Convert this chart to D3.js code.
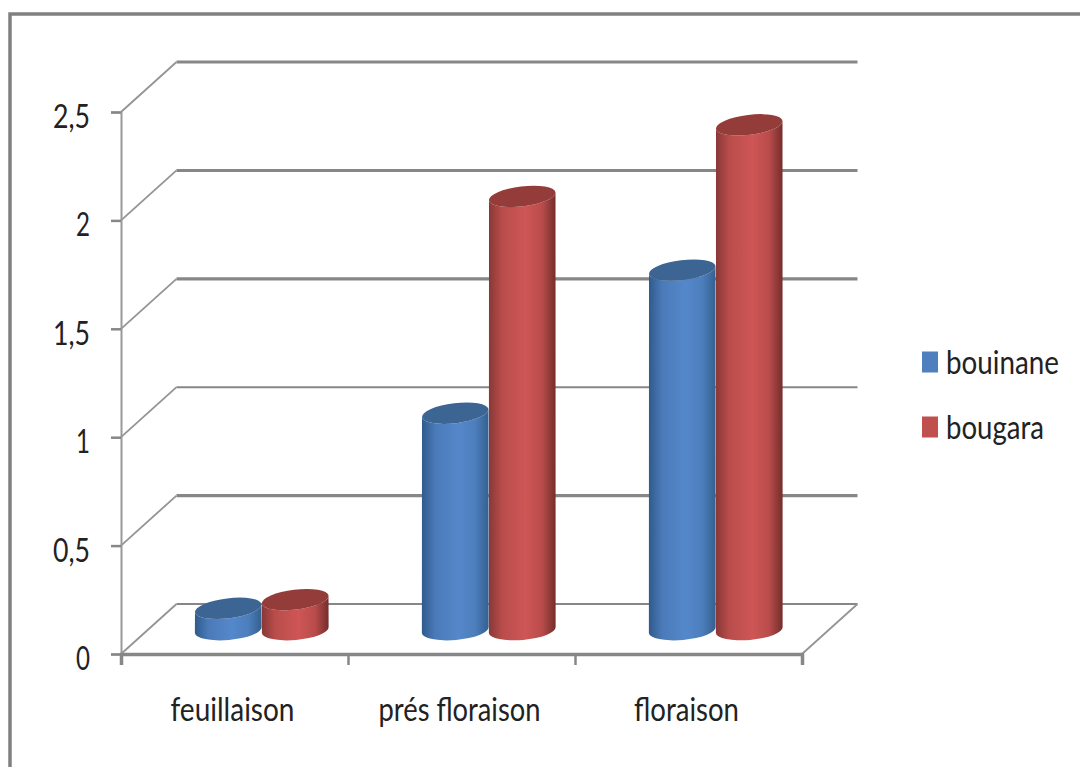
<!DOCTYPE html>
<html>
<head>
<meta charset="utf-8">
<script src="https://cdn.jsdelivr.net/npm/d3@7"></script>
<style>
  html, body { margin: 0; padding: 0; background: #fff; }
  svg { display: block; }
  text { font-family: Lato, "Open Sans", sans-serif; font-weight: 400; fill: #222; }
</style>
</head>
<body>
<svg id="chart" width="1080" height="767"></svg>
<script>
// Chart content
const categories = ["feuillaison", "prés floraison", "floraison"];
const seriesNames = ["bouinane", "bougara"];
const bouinane = [0.1, 1, 1.66];
const bougara = [0.14, 2, 2.33];
const valueTicks = [0, 0.5, 1, 1.5, 2, 2.5];
const valueTickLabels = ["0", "0,5", "1", "1,5", "2", "2,5"];

// Fixed box and pseudo-3D depth of the plot
const plotLeft = 121, plotRight = 802, plotBottom = 654, plotTop = 112;
const depthX = 55.5, depthY = -50;
const gridColor = "#878787";
const fontSize = 32;
const svg = d3.select("#chart");

const y = d3.scaleLinear().domain([0, 2.5]).range([plotBottom, plotTop]);
const xBand = d3.scaleBand().domain(categories).range([plotLeft, plotRight]);
const xEdge = d3.scaleLinear().domain([0, categories.length]).range([plotLeft, plotRight]);

// Frame, open on the right and at the bottom
svg.append("path")
  .attr("d", "M1080,14H10V767")
  .attr("fill", "none").attr("stroke", "#808080").attr("stroke-width", 3.5);

// Back-wall gridlines, heavier on some levels
const wall = d3.line();
const gridWeights = [2, 3.2, 2, 3.2, 3, 3];
svg.append("g").selectAll("path").data(valueTicks).join("path")
  .attr("d", v => wall([
    [plotLeft + depthX, y(v) + depthY],
    [plotRight + depthX, y(v) + depthY]
  ]))
  .attr("fill", "none")
  .attr("stroke", gridColor)
  .attr("stroke-width", (v, i) => gridWeights[i]);

// Slanted returns from the back wall to the value axis
svg.append("g").selectAll("path").data(valueTicks).join("path")
  .attr("d", v => wall([[plotLeft, y(v)], [plotLeft + depthX, y(v) + depthY]]))
  .attr("fill", "none")
  .attr("stroke", "#949494")
  .attr("stroke-width", 1.8);

// Right edge of the floor
svg.append("path")
  .attr("d", wall([[plotRight, y(0)], [plotRight + depthX, y(0) + depthY]]))
  .attr("fill", "none").attr("stroke", "#949494").attr("stroke-width", 1.8);

// Value axis
const yAxis = svg.append("g").attr("transform", `translate(${plotLeft},0)`)
  .call(d3.axisLeft(y).tickValues(valueTicks).tickSize(10)
    .tickFormat((d, i) => valueTickLabels[i]).tickPadding(0));
yAxis.selectAll("path, line").attr("stroke", gridColor).attr("stroke-width", 2.5);
yAxis.select(".domain").attr("stroke", "#999").attr("stroke-width", 2);
yAxis.attr("font-family", null).attr("font-size", null);
yAxis.selectAll("text")
  .attr("x", -31).attr("y", 4).attr("dy", "0.36em")
  .attr("font-size", fontSize)
  .attr("fill", "#222")
  .attr("lengthAdjust", "spacingAndGlyphs")
  .attr("textLength", (d, i) => valueTickLabels[i].length > 1 ? 37 : 14);

// Category axis: tick marks at the band edges
const xTicks = svg.append("g").attr("transform", `translate(0,${plotBottom})`)
  .call(d3.axisBottom(xEdge).tickValues(d3.range(categories.length + 1)).tickSize(11)
    .tickFormat(""));
xTicks.selectAll("path, line").attr("stroke", gridColor).attr("stroke-width", 2.5);
xTicks.select(".domain").attr("stroke-width", 3.5);

// Category labels centred on the bands
const labelWidths = [124, 162, 105];
const xLabels = svg.append("g").attr("transform", `translate(0,${plotBottom})`)
  .call(d3.axisBottom(xBand).tickSize(0).tickPadding(44));
xLabels.select(".domain").remove();
xLabels.attr("font-family", null).attr("font-size", null);
xLabels.selectAll("text")
  .attr("x", -2)
  .attr("font-size", fontSize)
  .attr("fill", "#222")
  .attr("lengthAdjust", "spacingAndGlyphs")
  .attr("textLength", (d, i) => labelWidths[i]);

// Cylinder shading
const defs = svg.append("defs");
const shades = [
  { edgeL: "#2f5a8c", mid: "#5588cb", edgeR: "#33608f", cap: "#3c6593" },
  { edgeL: "#883836", mid: "#ce5655", edgeR: "#742d2b", cap: "#943c39" }
];
shades.forEach((s, i) => {
  const g = defs.append("linearGradient").attr("id", "side" + i)
    .attr("x1", 0).attr("x2", 1).attr("y1", 0).attr("y2", 0);
  [[0, s.edgeL], [0.2, d3.interpolateRgb(s.edgeL, s.mid)(0.7)], [0.55, s.mid],
   [0.8, d3.interpolateRgb(s.edgeR, s.mid)(0.75)], [1, s.edgeR]]
    .forEach(([o, c]) => g.append("stop").attr("offset", o).attr("stop-color", c));
});

// Cylinders sit halfway into the floor depth
const rx = 33.5, ry = 10;
const capTilt = -7, baseTilt = -5;
const rad = a => a * Math.PI / 180;
const barData = categories.flatMap((c, ci) =>
  [bouinane, bougara].map((vals, si) => ({ c, si, v: vals[ci] })));

const bars = svg.append("g").selectAll("g").data(barData).join("g");
bars.each(function (d) {
  const g = d3.select(this);
  const cx = xBand(d.c) + xBand.bandwidth() / 2 + depthX / 2 - 0.5 + (d.si === 0 ? -rx : rx);
  const yBase = y(0) + depthY / 2 + 1;
  const yTop = y(d.v) + depthY / 2 + 1;
  const capDx = rx * Math.cos(rad(capTilt)), capDy = rx * Math.sin(rad(capTilt));
  const baseDx = rx * Math.cos(rad(baseTilt)), baseDy = rx * Math.sin(rad(baseTilt));
  g.append("path")
    .attr("d", `M${cx - capDx},${yTop - capDy}L${cx - baseDx},${yBase - baseDy}` +
      `A${rx},${ry} ${baseTilt} 0 0 ${cx + baseDx},${yBase + baseDy}` +
      `L${cx + capDx},${yTop + capDy}` +
      `A${rx},${ry} ${capTilt} 0 1 ${cx - capDx},${yTop - capDy}Z`)
    .attr("fill", `url(#side${d.si})`);
  g.append("ellipse")
    .attr("cx", cx).attr("cy", yTop).attr("rx", rx).attr("ry", ry)
    .attr("transform", `rotate(${capTilt} ${cx} ${yTop})`)
    .attr("fill", shades[d.si].cap);
});

// Legend
const legendY = d3.scalePoint().domain(seriesNames).range([362, 427]);
const legendWidths = [113, 98];
const legendColors = ["#4f80bd", "#c0504d"];
const legend = svg.append("g").selectAll("g").data(seriesNames).join("g")
  .attr("transform", d => `translate(922,${legendY(d)})`);
legend.append("rect")
  .attr("y", -10.5).attr("width", 16).attr("height", 21)
  .attr("fill", (d, i) => legendColors[i]);
legend.append("text")
  .attr("x", 24).attr("dy", "0.36em")
  .attr("font-size", fontSize)
  .attr("lengthAdjust", "spacingAndGlyphs")
  .attr("textLength", (d, i) => legendWidths[i])
  .text(d => d);
</script>
</body>
</html>
